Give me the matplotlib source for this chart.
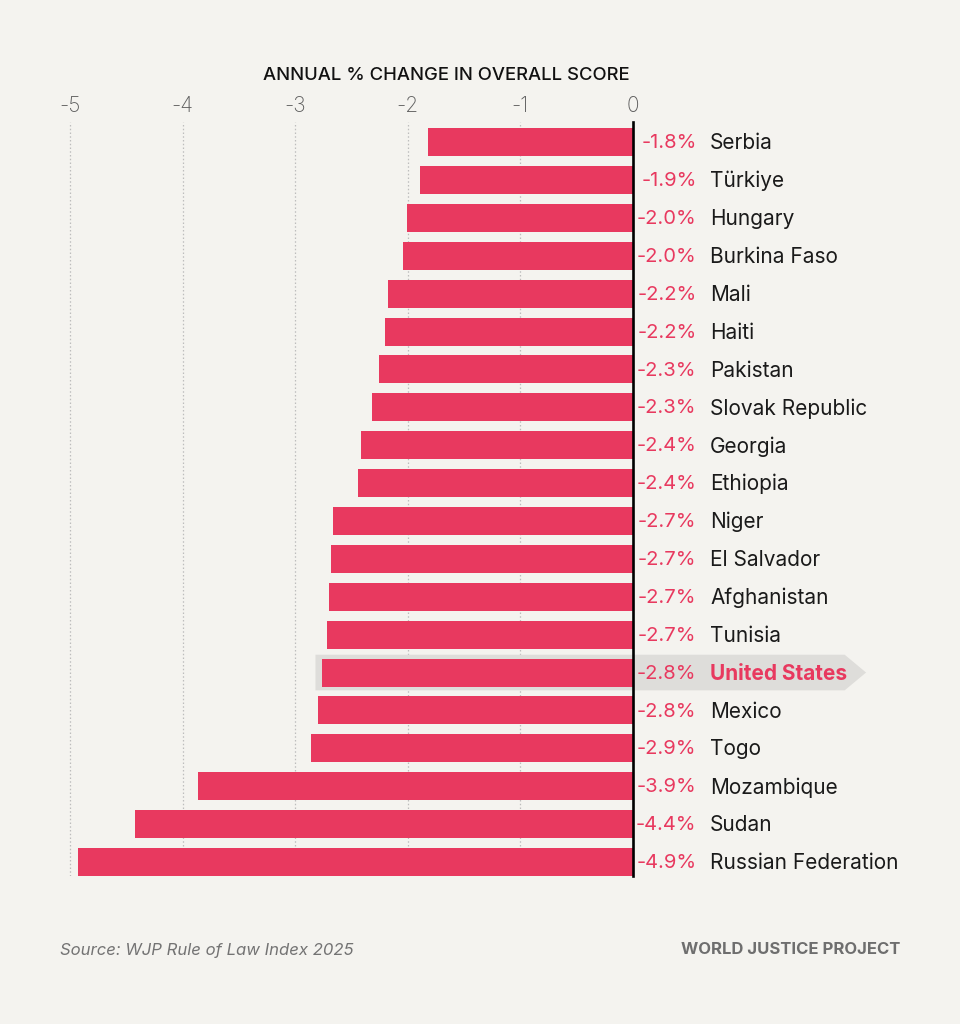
import matplotlib
matplotlib.use("Agg")
import matplotlib.pyplot as plt
from matplotlib.patches import Polygon

countries = ["Serbia", "Türkiye", "Hungary", "Burkina Faso", "Mali", "Haiti",
             "Pakistan", "Slovak Republic", "Georgia", "Ethiopia", "Niger",
             "El Salvador", "Afghanistan", "Tunisia", "United States", "Mexico",
             "Togo", "Mozambique", "Sudan", "Russian Federation"]
values = [-1.82, -1.89, -2.01, -2.04, -2.18, -2.20, -2.26, -2.32, -2.42, -2.44,
          -2.66, -2.68, -2.70, -2.72, -2.76, -2.80, -2.86, -3.86, -4.42, -4.93]
value_labels = ["-1.8%", "-1.9%", "-2.0%", "-2.0%", "-2.2%", "-2.2%", "-2.3%",
                "-2.3%", "-2.4%", "-2.4%", "-2.7%", "-2.7%", "-2.7%", "-2.7%",
                "-2.8%", "-2.8%", "-2.9%", "-3.9%", "-4.4%", "-4.9%"]
xticks = [-5, -4, -3, -2, -1, 0]
highlight = "United States"

BG = "#F4F3EF"
RED = "#E8395F"
FONT = ["Inter", "DejaVu Sans"]
plt.rcParams["font.family"] = FONT

W, H = 960, 1024
fig = plt.figure(figsize=(W / 100, H / 100), dpi=100, facecolor=BG)

# axes geometry in pixels
x0_px, px_per_unit = 633, 112.6
xmin = -5.1
left_px = x0_px + xmin * px_per_unit
top_px, bottom_px = 122, 876
ax = fig.add_axes([left_px / W, 1 - bottom_px / H, (x0_px - left_px) / W,
                   (bottom_px - top_px) / H])
ax.set_facecolor(BG)
n = len(countries)
ax.set_xlim(xmin, 0)
ax.set_ylim(n - 1 + 0.37, -0.53)

for t in xticks[:-1]:
    ax.axvline(t, color="#bdbdbd", lw=0.9, ls=(0, (1.2, 1.8)), zorder=0)

hi = countries.index(highlight)
# highlight band with arrow tip
band = Polygon([(values[hi] - 0.06, hi - 0.47), (1.88, hi - 0.47), (2.07, hi),
                (1.88, hi + 0.47), (values[hi] - 0.06, hi + 0.47)],
               closed=True, facecolor="#DEDDDA", edgecolor="none",
               clip_on=False, zorder=1)
ax.add_patch(band)

ax.barh(range(n), values, height=0.74, color=RED, zorder=2)
ax.axvline(0, color="black", lw=1.9, zorder=3, clip_on=False)

for i, (c, lab) in enumerate(zip(countries, value_labels)):
    ax.text(0.565, i + 0.03, lab, ha="right", va="center", color=RED,
            fontsize=14.5, clip_on=False)
    if c == highlight:
        ax.text(0.684, i + 0.03, c, ha="left", va="center", color=RED,
                fontsize=15, fontweight="bold", clip_on=False)
    else:
        ax.text(0.684, i + 0.03, c, ha="left", va="center", color="#1a1a1a",
                fontsize=15, clip_on=False)

ax.xaxis.tick_top()
ax.set_xticks(xticks)
ax.set_xticklabels([str(t) for t in xticks])
ax.tick_params(axis="x", length=0, pad=4, labelsize=15, labelcolor="#5e5e5e")
for lbl in ax.get_xticklabels():
    lbl.set_fontweight("light")
ax.set_yticks([])
for s in ax.spines.values():
    s.set_visible(False)

fig.text(446 / W, 1 - 75 / H, "ANNUAL % CHANGE IN OVERALL SCORE", ha="center",
         va="center", fontsize=13.3, color="#111111", fontweight="medium")
fig.text(60 / W, 1 - 950 / H, "Source: WJP Rule of Law Index 2025", ha="left",
         va="center", fontsize=12, color="#737373", style="italic")
fig.text(900 / W, 1 - 950 / H, "WORLD JUSTICE PROJECT", ha="right",
         va="center", fontsize=12, color="#6e6e6e", fontweight="bold")

fig.savefig("out.png", dpi=100, facecolor=BG)
